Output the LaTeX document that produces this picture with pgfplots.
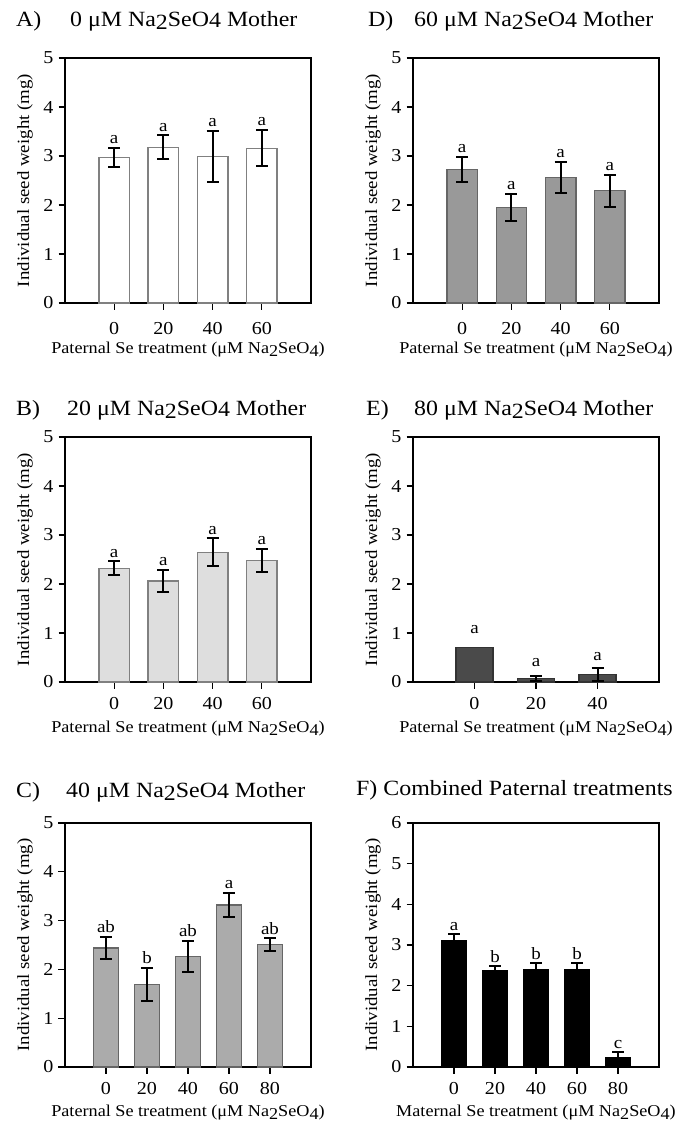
\documentclass[border=0pt]{standalone}
\usepackage{fontspec}
\setmainfont{Liberation Serif}[FakeStretch=1.1]
\usepackage{pgfplots}
\pgfplotsset{compat=1.18}

\definecolor{edgeg}{gray}{0.5}
\definecolor{fillB}{gray}{0.87}
\definecolor{fillC}{gray}{0.67}
\definecolor{fillD}{gray}{0.60}
\definecolor{fillE}{gray}{0.29}
\definecolor{edgeE}{gray}{0.2}

\newcommand{\tickfont}{\fontsize{18.3}{20}\selectfont}
\newcommand{\labfont}{\fontsize{16.6}{19}\selectfont}
\newcommand{\ylabfont}{\fontsize{17.2}{19}\selectfont}
\newcommand{\titfont}{\fontsize{21.8}{24}\selectfont}
\newcommand{\letfont}{\fontsize{17.3}{19}\selectfont}
\newcommand{\lo}[2][3bp]{\raisebox{-#1}{#2}}

\pgfplotsset{
  panel/.style={
    scale only axis, width=246bp, height=245bp,
    anchor=south west,
    ymin=0, ymax=5, ytick={0,1,2,3,4,5},
    tick align=outside, tick pos=left, major tick length=6.5bp,
    every tick/.style={black, line width=1.2bp},
    axis line style={line width=1.7bp, black},
    /pgf/number format/assume math mode=true,
    ticklabel style={font=\tickfont},
    yticklabel style={anchor=east, inner sep=0pt, xshift=-5bp},
    xticklabel style={anchor=base, inner sep=0pt, yshift=-24.5bp},
    ylabel={Individual seed weight (mg)},
    every axis y label/.style={at={(axis description cs:-0.1626,0.5)}, rotate=90, anchor=center, font=\ylabfont},
    every axis x label/.style={at={(axis description cs:0.5,-0.2041)}, anchor=base, font=\labfont},
    xlabel={Paternal Se treatment (μM Na\lo{2}SeO\lo{4})},
    clip=false,
  },
  bars/.style={ybar, bar width=0.62, bar shift=0pt, line width=1.3bp,
    error bars/y dir=both, error bars/y explicit,
    error bars/error bar style={black, line width=2bp},
    error bars/error mark options={black, line width=2bp, mark size=6bp, rotate=90}},
  letters/.style={draw=none, nodes near coords, point meta=explicit symbolic,
    nodes near coords align={center},
    every node near coord/.append style={anchor=south, inner sep=0pt, font=\letfont, text=black}},
}

\begin{document}
\begin{tikzpicture}
\path[use as bounding box] (0,0) rectangle (693bp,-1123bp);

% A
\begin{axis}[panel, at={(65bp,-303bp)}, xmin=-1, xmax=4, xtick={0,1,2,3}, xticklabels={0,20,40,60}]
\addplot[bars, fill=white, draw=edgeg] coordinates {(0,2.97) +- (0,0.19) (1,3.18) +- (0,0.24) (2,2.99) +- (0,0.52) (3,3.16) +- (0,0.37)};
\addplot[letters] coordinates {(0,3.24)[a] (1,3.50)[a] (2,3.59)[a] (3,3.61)[a]};
\end{axis}

% D
\begin{axis}[panel, at={(413bp,-303bp)}, xmin=-1, xmax=4, xtick={0,1,2,3}, xticklabels={0,20,40,60}]
\addplot[bars, fill=fillD, draw=edgeg!80!black] coordinates {(0,2.72) +- (0,0.26) (1,1.95) +- (0,0.27) (2,2.56) +- (0,0.32) (3,2.29) +- (0,0.33)};
\addplot[letters] coordinates {(0,3.06)[a] (1,2.30)[a] (2,2.96)[a] (3,2.70)[a]};
\end{axis}

% B
\begin{axis}[panel, at={(65bp,-682bp)}, xmin=-1, xmax=4, xtick={0,1,2,3}, xticklabels={0,20,40,60},
  xticklabel style={yshift=4bp}]
\addplot[bars, fill=fillB, draw=edgeg] coordinates {(0,2.32) +- (0,0.14) (1,2.06) +- (0,0.23) (2,2.65) +- (0,0.28) (3,2.48) +- (0,0.235)};
\addplot[letters] coordinates {(0,2.54)[a] (1,2.37)[a] (2,3.01)[a] (3,2.79)[a]};
\end{axis}

% E
\begin{axis}[panel, at={(413bp,-682bp)}, xmin=-1, xmax=3, xtick={0,1,2}, xticklabels={0,20,40},
  xticklabel style={yshift=4bp}]
\addplot[ybar, bar width=0.6, bar shift=0pt, line width=1.3bp, fill=fillE, draw=edgeE] coordinates {(0,0.71)};
\addplot[bars, bar width=0.6, fill=fillE, draw=edgeE] coordinates {(1,0.07) +- (0,0.05) (2,0.15) +- (0,0.13)};
\addplot[letters] coordinates {(0,0.99)[a] (1,0.31)[a] (2,0.44)[a]};
\end{axis}

% C
\begin{axis}[panel, at={(65bp,-1067bp)}, height=244bp, xmin=-1, xmax=5, xtick={0,1,2,3,4}, xticklabels={0,20,40,60,80},
  xticklabel style={yshift=4bp}]
\addplot[bars, fill=fillC, draw=edgeg!80!black] coordinates {(0,2.44) +- (0,0.22) (1,1.69) +- (0,0.345) (2,2.26) +- (0,0.32) (3,3.32) +- (0,0.25) (4,2.51) +- (0,0.13)};
\addplot[letters] coordinates {(0,2.74)[ab] (1,2.12)[b] (2,2.66)[ab] (3,3.65)[a] (4,2.71)[ab]};
\end{axis}

% F
\begin{axis}[panel, at={(413bp,-1067bp)}, height=244bp, ymax=6, ytick={0,1,2,3,4,5,6}, xmin=-1, xmax=5, xtick={0,1,2,3,4}, xticklabels={0,20,40,60,80},
  xticklabel style={yshift=4bp}, xlabel={Maternal Se treatment (μM Na\lo{2}SeO\lo{4})}]
\addplot[bars, fill=black, draw=black] coordinates {(0,3.10) +- (0,0.16) (1,2.37) +- (0,0.11) (2,2.40) +- (0,0.16) (3,2.40) +- (0,0.15) (4,0.22) +- (0,0.14)};
\addplot[letters] coordinates {(0,3.34)[a] (1,2.56)[b] (2,2.64)[b] (3,2.63)[b] (4,0.44)[c]};
\end{axis}

% titles
\begin{scope}[every node/.style={font=\titfont, inner sep=0pt, anchor=base west}]
\node at (16bp,-26bp) {A)};
\node at (70bp,-26bp) {0 μM Na\lo{2}SeO\lo[1bp]{4} Mother};
\node at (368bp,-26bp) {D)};
\node at (414bp,-26bp) {60 μM Na\lo{2}SeO\lo[1bp]{4} Mother};
\node at (16bp,-415bp) {B)};
\node at (67bp,-415bp) {20 μM Na\lo{2}SeO\lo[1bp]{4} Mother};
\node at (366bp,-415bp) {E)};
\node at (414bp,-415bp) {80 μM Na\lo{2}SeO\lo[1bp]{4} Mother};
\node at (16bp,-797bp) {C)};
\node at (66bp,-797bp) {40 μM Na\lo{2}SeO\lo[1bp]{4} Mother};
\node at (356bp,-795bp) {F) Combined Paternal treatments};
\end{scope}
\end{tikzpicture}
\end{document}
